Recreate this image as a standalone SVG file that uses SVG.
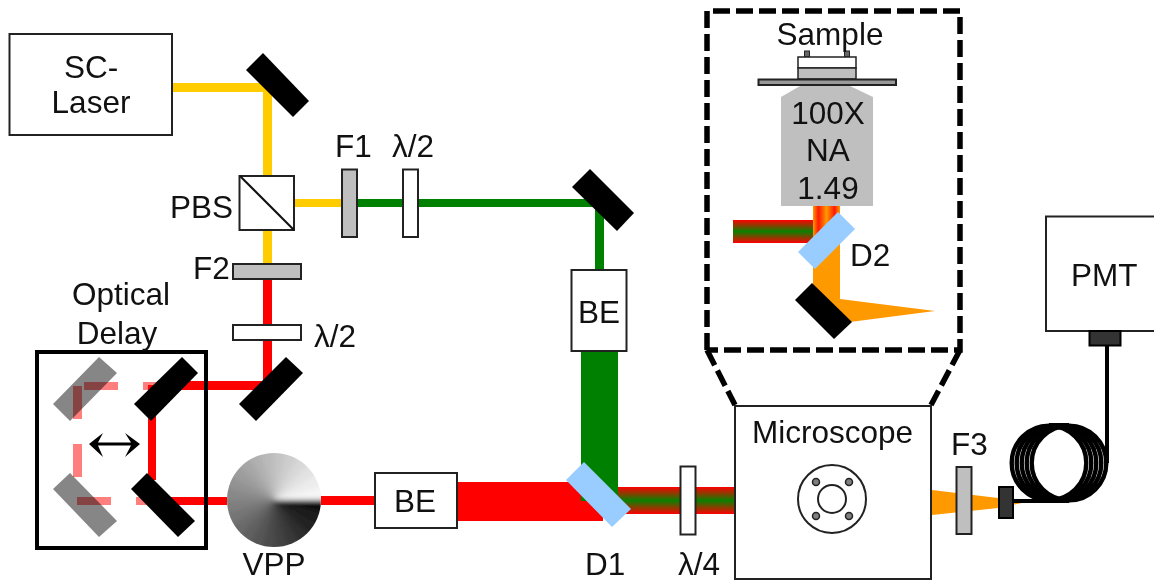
<svg xmlns="http://www.w3.org/2000/svg" xmlns:xlink="http://www.w3.org/1999/xlink" width="1154" height="582" viewBox="0 0 1154 582">
<style>
text{font-family:"Liberation Sans",Arial,sans-serif;font-size:31.500px;fill:#111}
.mid{text-anchor:middle}
.box{fill:#fff;stroke:#222;stroke-width:2}
.plate{fill:#fff;stroke:#222;stroke-width:2}
.filter{fill:#bfbfbf;stroke:#222;stroke-width:2}
.mirror{fill:#000}
.ghost{fill:#7f7f7f}
.dich{fill:#99ccff}
.y{fill:#ffcc00}.r{fill:#ff0000}.g{fill:#008000}.o{fill:#ff9900}
.fade{fill:#ff0000;fill-opacity:.5}
.dash{fill:none;stroke:#000;stroke-width:5.500;stroke-dasharray:17 6}
.coil{fill:none;stroke:#000;stroke-width:4.400}
.port{fill:#333;stroke:#000;stroke-width:2}
</style>
<defs>
<linearGradient id="rgr" x1="0" y1="0" x2="0" y2="1">
<stop offset="0" stop-color="#ff0000"/><stop offset=".5" stop-color="#0a8000"/><stop offset="1" stop-color="#ff0000"/>
</linearGradient>
<linearGradient id="oro" x1="0" y1="0" x2="1" y2="0">
<stop offset="0" stop-color="#ff9900"/><stop offset=".2" stop-color="#ff1a00"/><stop offset=".5" stop-color="#ff9900"/><stop offset=".8" stop-color="#ff1a00"/><stop offset="1" stop-color="#ff9900"/>
</linearGradient>
<path id="w" d="M274 500L334 500A60 60 0 0 0 331.680 483.460Z"/>
<clipPath id="vc"><circle cx="274" cy="500" r="47"/></clipPath>
<filter id="soft" x="-10%" y="-10%" width="120%" height="120%"><feGaussianBlur stdDeviation="2.500"/></filter>
</defs>
<rect width="1154" height="582" fill="#fff"/>

<g id="connectors">
<rect class="y" x="172" y="83" width="100" height="9"/>
<rect class="y" x="263" y="83" width="9" height="181"/>
<rect class="y" x="294" y="199" width="48" height="8"/>
<rect class="g" x="357" y="199" width="247" height="8"/>
<rect class="g" x="595" y="199" width="9" height="71"/>
<rect class="r" x="263" y="279" width="9" height="106"/>
<rect class="r" x="157" y="381" width="111" height="9"/>
<rect class="r" x="148" y="385" width="8" height="95"/>
<rect class="r" x="150" y="497" width="77" height="8"/>
<rect class="fade" x="84" y="382" width="34" height="8"/>
<rect class="fade" x="143" y="382" width="14" height="8"/>
<rect class="fade" x="73" y="386" width="9" height="33"/>
<rect class="fade" x="73" y="444" width="9" height="33"/>
<rect class="fade" x="77" y="497" width="34" height="8"/>
<rect class="fade" x="136" y="497" width="14" height="8"/>
<rect class="r" x="321" y="496" width="54" height="9"/>
<rect class="r" x="457" y="482" width="146" height="39"/>
<rect class="g" x="581" y="351" width="37" height="150"/>
<rect x="618" y="487" width="117" height="27" fill="url(#rgr)"/>
<rect x="733" y="220" width="81" height="23" fill="url(#rgr)"/>
<rect x="813" y="206" width="27" height="40" fill="url(#oro)"/>
<rect class="o" x="813" y="240" width="27" height="75"/>
<polygon class="o" points="840,299 935,311 850,322 835,322"/>
<polygon class="o" points="932,490 998,498 1022,503 998,508 932,515"/>
<polygon points="89,444 103,433 98,442.500 131,442.500 125,433 140,444 125,457 131,445.500 98,445.500 103,457" fill="#000"/>
</g>

<g id="sc-laser"><rect class="box" x="9.500" y="34" width="162.500" height="101"/>
<text class="mid" x="91" y="78">SC-</text><text class="mid" x="91" y="113">Laser</text></g>
<g id="mirror-1"><polygon class="mirror" points="263,53 309,101 293,117 246,70"/></g>
<g id="pbs"><rect class="box" x="239.500" y="176" width="54.500" height="54"/><path d="M240 176L294 230" stroke="#111" stroke-width="2"/>
<text x="170" y="218">PBS</text></g>
<g id="f1"><rect class="filter" x="342" y="169.500" width="15" height="67.500"/><text x="335" y="157">F1</text></g>
<g id="hwp-1"><rect class="plate" x="403" y="169.500" width="15" height="67.500"/><text x="392" y="157">λ/2</text></g>
<g id="mirror-2"><polygon class="mirror" points="590,169 634,213 617,231 572,187"/></g>
<g id="f2"><rect class="filter" x="233" y="264" width="68" height="15"/><text x="193" y="279">F2</text></g>
<g id="hwp-2"><rect class="plate" x="233" y="325" width="68" height="15"/><text x="314" y="347">λ/2</text></g>
<g id="mirror-3"><polygon class="mirror" points="286,357 303,373 256,421 239,404"/></g>
<g id="optical-delay">
<rect x="37" y="352" width="169" height="196" fill="none" stroke="#000" stroke-width="4"/>
<text class="mid" x="121" y="305">Optical</text><text class="mid" x="117" y="344">Delay</text>
<polygon class="mirror" points="182,357 198,373 151,421 134,404"/>
<polygon class="mirror" points="147,473 195,521 178,537 131,489"/>
<g opacity=".95" style="mix-blend-mode:multiply">
<polygon class="ghost" points="99,357 117,373 70,421 53,404"/>
<polygon class="ghost" points="70,473 117,521 99,537 53,489"/>
</g>
</g>
<g id="vpp">
<g clip-path="url(#vc)"><g filter="url(#soft)">
<circle cx="274" cy="500" r="60" fill="#888"/>
<use xlink:href="#w" href="#w" fill="#0f0f0f" transform="rotate(-345 274 500)"/>
<use xlink:href="#w" href="#w" fill="#1a1a1a" transform="rotate(-330 274 500)"/>
<use xlink:href="#w" href="#w" fill="#242424" transform="rotate(-315 274 500)"/>
<use xlink:href="#w" href="#w" fill="#2e2e2e" transform="rotate(-300 274 500)"/>
<use xlink:href="#w" href="#w" fill="#383838" transform="rotate(-285 274 500)"/>
<use xlink:href="#w" href="#w" fill="#424242" transform="rotate(-270 274 500)"/>
<use xlink:href="#w" href="#w" fill="#4c4c4c" transform="rotate(-255 274 500)"/>
<use xlink:href="#w" href="#w" fill="#565656" transform="rotate(-240 274 500)"/>
<use xlink:href="#w" href="#w" fill="#606060" transform="rotate(-225 274 500)"/>
<use xlink:href="#w" href="#w" fill="#6a6a6a" transform="rotate(-210 274 500)"/>
<use xlink:href="#w" href="#w" fill="#747474" transform="rotate(-195 274 500)"/>
<use xlink:href="#w" href="#w" fill="#7e7e7e" transform="rotate(-180 274 500)"/>
<use xlink:href="#w" href="#w" fill="#888888" transform="rotate(-165 274 500)"/>
<use xlink:href="#w" href="#w" fill="#929292" transform="rotate(-150 274 500)"/>
<use xlink:href="#w" href="#w" fill="#9c9c9c" transform="rotate(-135 274 500)"/>
<use xlink:href="#w" href="#w" fill="#a6a6a6" transform="rotate(-120 274 500)"/>
<use xlink:href="#w" href="#w" fill="#b0b0b0" transform="rotate(-105 274 500)"/>
<use xlink:href="#w" href="#w" fill="#bababa" transform="rotate(-90 274 500)"/>
<use xlink:href="#w" href="#w" fill="#c4c4c4" transform="rotate(-75 274 500)"/>
<use xlink:href="#w" href="#w" fill="#cecece" transform="rotate(-60 274 500)"/>
<use xlink:href="#w" href="#w" fill="#d8d8d8" transform="rotate(-45 274 500)"/>
<use xlink:href="#w" href="#w" fill="#e2e2e2" transform="rotate(-30 274 500)"/>
<use xlink:href="#w" href="#w" fill="#ececec" transform="rotate(-15 274 500)"/>
<use xlink:href="#w" href="#w" fill="#f5f5f5"/>
</g></g>
<text class="mid" x="274" y="575">VPP</text></g>
<g id="be-1"><rect class="box" x="375" y="473" width="82" height="55"/><text class="mid" x="415" y="512">BE</text></g>
<g id="be-2"><rect class="box" x="571.500" y="270" width="55" height="81"/><text class="mid" x="599" y="323">BE</text></g>
<g id="d1"><polygon class="dich" points="584,462 631,509 612,527 566,480"/><text x="585" y="575">D1</text></g>
<g id="qwp"><rect class="plate" x="680.500" y="466.500" width="15" height="68"/><text x="678" y="575">λ/4</text></g>
<g id="microscope"><rect class="box" x="735" y="406" width="196" height="173"/>
<text x="752" y="443">Microscope</text>
<circle cx="832" cy="499" r="34" fill="none" stroke="#222" stroke-width="2"/>
<circle cx="832" cy="499" r="14" fill="none" stroke="#222" stroke-width="2"/>
<circle cx="816" cy="482" r="3.500" fill="#7f7f7f" stroke="#222" stroke-width="1.500"/>
<circle cx="849" cy="482" r="3.500" fill="#7f7f7f" stroke="#222" stroke-width="1.500"/>
<circle cx="816" cy="516" r="3.500" fill="#7f7f7f" stroke="#222" stroke-width="1.500"/>
<circle cx="849" cy="516" r="3.500" fill="#7f7f7f" stroke="#222" stroke-width="1.500"/>
</g>
<g id="inset">
<path class="dash" d="M707 350V11H960V350H707"/>
<path class="dash" d="M707 350L735 405M960 350L931 405"/>
</g>
<g id="sample">
<rect x="804.500" y="51" width="5" height="6" fill="#666" stroke="#222"/>
<rect x="844.500" y="51" width="5" height="6" fill="#666" stroke="#222"/>
<rect x="798" y="57" width="58" height="11" fill="#fff" stroke="#222" stroke-width="1.500"/>
<rect x="798" y="68" width="58" height="11" fill="#bfbfbf" stroke="#222" stroke-width="1.500"/>
<rect x="758.500" y="79.500" width="137.500" height="5.500" fill="#999" stroke="#222" stroke-width="2"/>
<text class="mid" x="830" y="45">Sample</text></g>
<g id="objective"><polygon points="800,86 850,86 873,97 873,206 781,206 781,97" fill="#bfbfbf"/>
<text class="mid" x="828" y="124">100X</text><text class="mid" x="828" y="161">NA</text><text class="mid" x="828" y="199">1.49</text></g>
<g id="d2"><polygon class="dich" points="838,212 855,229 815,269 798,252"/><text x="850" y="266">D2</text></g>
<g id="mirror-4"><polygon class="mirror" points="812,283 852,322 834,339 795,300"/></g>
<g id="f3"><rect class="filter" x="956.500" y="467" width="15" height="67"/><text x="951" y="455">F3</text></g>
<g id="fiber">
<circle class="coil" cx="1049" cy="463" r="37.300"/>
<circle class="coil" cx="1054" cy="463" r="37.300"/>
<circle class="coil" cx="1059" cy="463" r="37.300"/>
<circle class="coil" cx="1064" cy="463" r="37.300"/>
<circle class="coil" cx="1069" cy="463" r="37.300"/>
<path d="M1010 501H1050M1107 346V463" fill="none" stroke="#000" stroke-width="4"/>
<path d="M1049 425H1069M1049 501H1069" fill="none" stroke="#000" stroke-width="4"/>
<rect class="port" x="999" y="487" width="14" height="31"/>
</g>
<g id="pmt"><rect class="box" x="1046" y="216.500" width="120" height="114.500"/>
<text x="1071" y="286">PMT</text>
<rect class="port" x="1089.500" y="331" width="31" height="14.500"/></g>
</svg>
